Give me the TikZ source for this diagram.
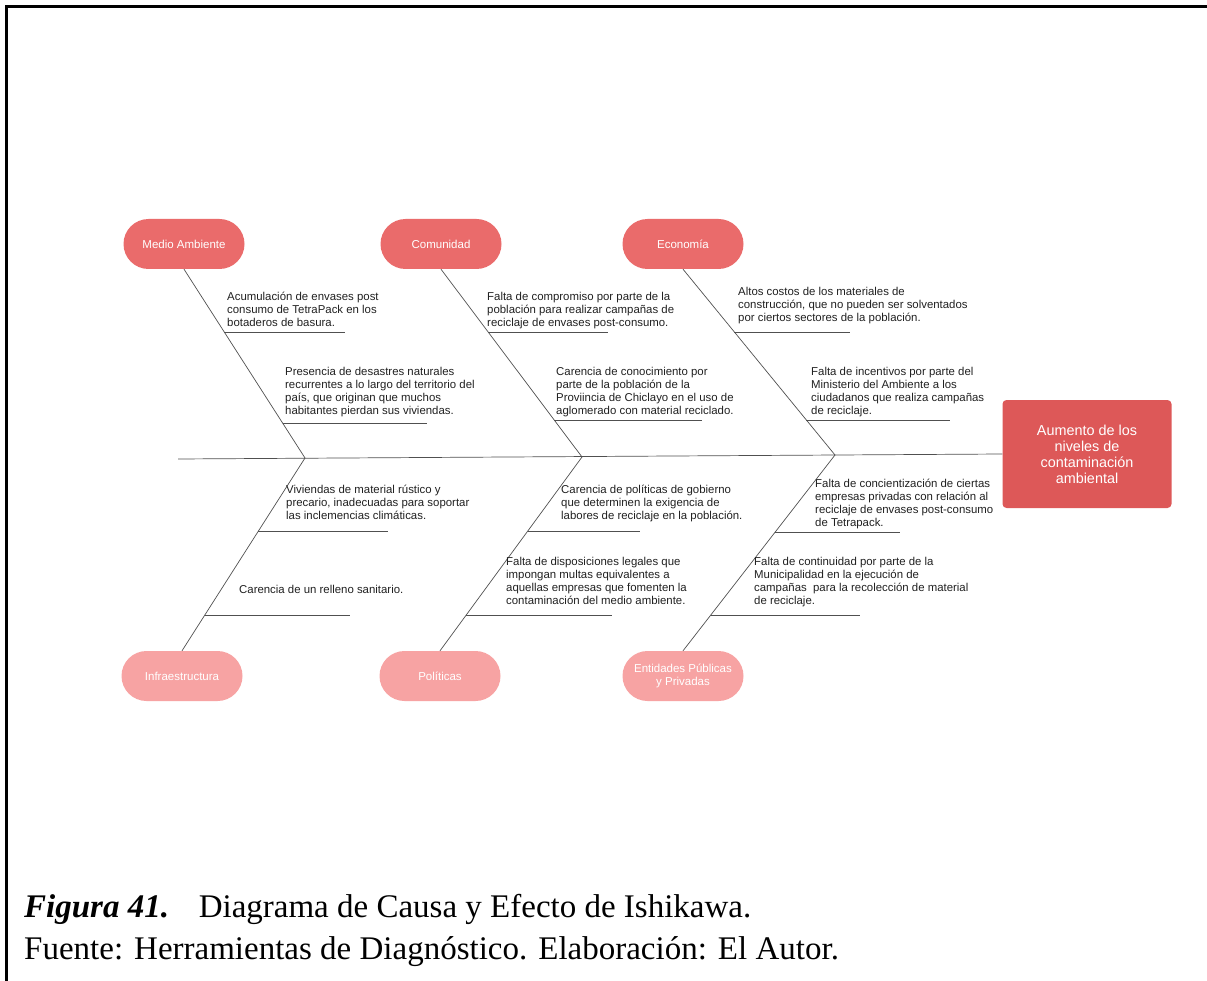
\documentclass[tikz,border=0pt]{standalone}
\usepackage{fontspec}
\setmainfont{Liberation Serif}
\newfontfamily\diagfont{Liberation Sans}
\usepackage{tikz}
\usetikzlibrary{calc,positioning,shapes.misc}
\definecolor{rojoCausa}{HTML}{EA6B6B}
\definecolor{rosaCausa}{HTML}{F7A3A3}
\definecolor{rojoEfecto}{HTML}{DD5858}
\definecolor{grisLinea}{HTML}{505050}
\definecolor{textoCausa}{HTML}{202020}
\newcommand\causafont{\diagfont\fontsize{11.4}{13}\selectfont}
\newcommand\etiquetafont{\diagfont\fontsize{11.5}{13.5}\selectfont}
\newcommand\efectofont{\diagfont\fontsize{14.4}{16}\selectfont}
\newcommand\leyendafont{\fontsize{33}{42}\selectfont}

\begin{document}
\begin{tikzpicture}[x=1pt,y=-1pt,
  causa/.style={font=\causafont,align=left,anchor=north west,inner sep=0pt,text=textoCausa,
    execute at begin node={\rule{0pt}{10.5pt}}},
  espina/.style={draw=grisLinea,line width=0.7pt},
  cajaArriba/.style={rounded rectangle,fill=rojoCausa,text=white,font=\etiquetafont,
    minimum width=121pt,minimum height=50pt,inner sep=0pt,align=center},
  cajaAbajo/.style={cajaArriba,fill=rosaCausa},
  leyenda/.style={anchor=base west,inner sep=0pt,font=\leyendafont}]
\useasboundingbox (0,0) rectangle (1207,981);
\draw[line width=3pt] (6.5,981) -- (6.5,6.5) -- (1207,6.5);

\node[cajaArriba] (medio) at (184,244) {Medio Ambiente};
\node[cajaArriba] (comunidad) at (441,244) {Comunidad};
\node[cajaArriba] (economia) at (683,244) {Economía};
\node[cajaAbajo] (infra) at (182,676) {Infraestructura};
\node[cajaAbajo] (politicas) at (440,676) {Políticas};
\node[cajaAbajo] (entidades) at (683,676) {Entidades Públicas\\y Privadas};
\node[fill=rojoEfecto,rounded corners=4pt,minimum width=169pt,minimum height=108pt,
  text=white,font=\efectofont,align=center] (efecto) at (1087,454)
  {Aumento de los\\niveles de\\contaminación\\ambiental};

\coordinate (cola) at (178,459);
\coordinate (jA) at (305,458);
\coordinate (jB) at (582,457);
\coordinate (jC) at (835,455);
\draw[espina] (cola) -- (efecto.west);
\foreach \caja/\punto in {medio/jA,comunidad/jB,economia/jC}
  \draw[espina] (\caja.south) -- (\punto);
\foreach \caja/\punto in {infra/jA,politicas/jB,entidades/jC}
  \draw[espina] (\caja.north) -- (\punto);

\foreach \caja/\punto/\yy/\xfin in {medio.south/jA/332/345,medio.south/jA/423/427,
    comunidad.south/jB/332/608,comunidad.south/jB/420/702,economia.south/jC/332/850,
    economia.south/jC/420/950,infra.north/jA/531/388,infra.north/jA/615/350,
    politicas.north/jB/531/640,politicas.north/jB/615/612,entidades.north/jC/532/900,
    entidades.north/jC/615/860}
  \draw[espina] let \p1=(\caja), \p2=(\punto),
    \n1={\x1+(-\yy pt-\y1)/(\y2-\y1)*(\x2-\x1)} in (\n1,-\yy pt) -- (\xfin,\yy);

\node[causa] (acumulacion) at (227,292.4) {Acumulación de envases post\\consumo de TetraPack en los\\botaderos de basura.};
\node[causa] (desastres) at (285,367.4) {Presencia de desastres naturales\\recurrentes a lo largo del territorio del\\país, que originan que muchos\\habitantes pierdan sus viviendas.};
\node[causa] (compromiso) at (487,292.4) {Falta de compromiso por parte de la\\población para realizar campañas de\\reciclaje de envases post-consumo.};
\node[causa] (conocimiento) at (556,367.4) {Carencia de conocimiento por\\parte de la población de la\\Proviincia de Chiclayo en el uso de\\aglomerado con material reciclado.};
\node[causa] (costos) at (738,287.4) {Altos costos de los materiales de\\construcción, que no pueden ser solventados\\por ciertos sectores de la población.};
\node[causa] (incentivos) at (811,367.4) {Falta de incentivos por parte del\\Ministerio del Ambiente a los\\ciudadanos que realiza campañas\\de reciclaje.};
\node[causa] (viviendas) at (286,485.4) {Viviendas de material rústico y\\precario, inadecuadas para soportar\\las inclemencias climáticas.};
\node[causa] (relleno) at (239,582.4) {Carencia de un relleno sanitario.};
\node[causa] (gobierno) at (561,485.4) {Carencia de políticas de gobierno\\que determinen la exigencia de\\labores de reciclaje en la población.};
\node[causa] (disposiciones) at (506,557.4) {Falta de disposiciones legales que\\impongan multas equivalentes a\\aquellas empresas que fomenten la\\contaminación del medio ambiente.};
\node[causa] (concientizacion) at (815,479.4) {Falta de concientización de ciertas\\empresas privadas con relación al\\reciclaje de envases post-consumo\\de Tetrapack.};
\node[causa] (continuidad) at (754,557.4) {Falta de continuidad por parte de la\\Municipalidad en la ejecución de\\campañas\ \ para la recolección de material\\de reciclaje.};

\node[leyenda] (figura) at (24,917)
  {\textbf{\textit{Figura 41.}}\hspace{0.9em}Diagrama de Causa y Efecto de Ishikawa.};
\node[leyenda] (fuente) at (24,959)
  {Fuente: Herramientas de Diagnóstico. Elaboración: El Autor.};
\end{tikzpicture}
\end{document}
